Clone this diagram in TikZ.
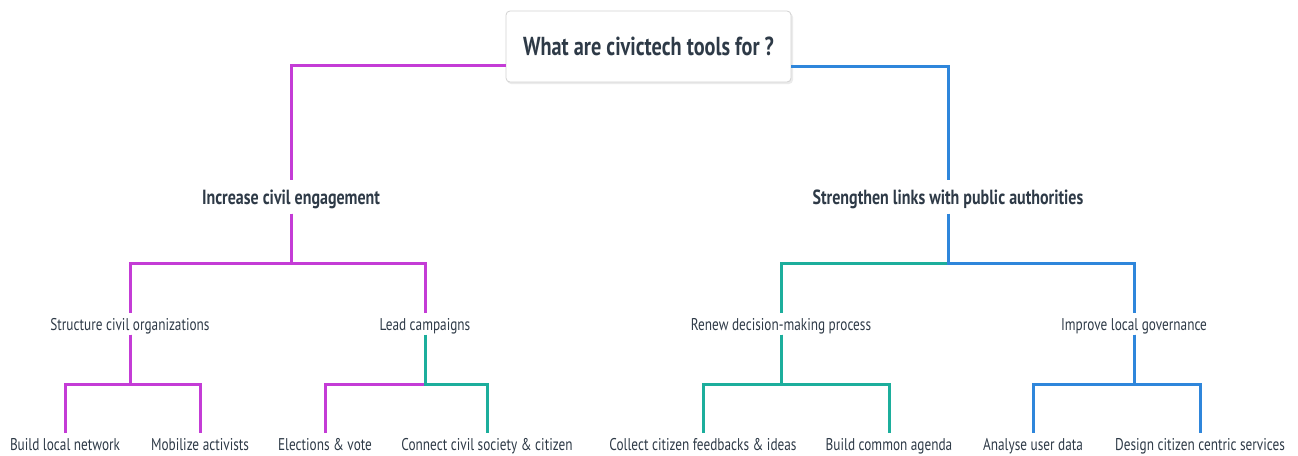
\documentclass[tikz,border=0pt]{standalone}
\usepackage{fontspec}
\setmainfont{PT Sans}[FakeStretch=0.78]
\usetikzlibrary{calc}
\definecolor{mag}{RGB}{196,60,214}
\definecolor{tl}{RGB}{28,174,156}
\definecolor{bl}{RGB}{47,134,219}
\definecolor{txt}{RGB}{46,58,71}
\definecolor{boxline}{RGB}{210,210,210}
\begin{document}
\begin{tikzpicture}[x=1pt,y=-1pt,
  every node/.style={text=txt, inner xsep=0pt},
  rootbox/.style={draw=boxline, line width=0.8pt, fill=white, rounded corners=4pt,
     minimum width=285pt, minimum height=71pt, font=\bfseries\fontsize{26}{29}\selectfont},
  lvltwo/.style={font=\bfseries\fontsize{20.5}{23}\selectfont, text height=14pt, text depth=0pt, inner ysep=9.5pt},
  lvlthree/.style={font=\fontsize{17}{20}\selectfont, text height=12pt, text depth=0pt, inner ysep=4.5pt},
  conn/.style={line width=3pt, line join=miter},
  elbow/.style={to path={-- ++(0,#1) -| (\tikztotarget)}}
]
\useasboundingbox (0,0) rectangle (1298,455);
% root
\fill[black!8, rounded corners=4pt] (507,13) rectangle (793,84);
\node[rootbox] (root) at (648.5,46.5) {What are civictech tools for ?};
% level 2
\node[lvltwo] (inc) at (291,197) {Increase civil engagement};
\node[lvltwo] (str) at (948,197) {Strengthen links with public authorities};
% level 3
\node[lvlthree] (sco) at (130,324) {Structure civil organizations};
\node[lvlthree] (lca) at (425,324) {Lead campaigns};
\node[lvlthree] (rdm) at (781,324) {Renew decision-making process};
\node[lvlthree] (ilg) at (1134,324) {Improve local governance};
% level 4
\node[lvlthree] (bln) at (65,444) {Build local network};
\node[lvlthree] (mac) at (200,444) {Mobilize activists};
\node[lvlthree] (elv) at (325,444) {Elections \& vote};
\node[lvlthree] (ccs) at (487,444) {Connect civil society \& citizen};
\node[lvlthree] (ccf) at (703,444) {Collect citizen feedbacks \& ideas};
\node[lvlthree] (bca) at (889,444) {Build common agenda};
\node[lvlthree] (aud) at (1033,444) {Analyse user data};
\node[lvlthree] (dcs) at (1200,444) {Design citizen centric services};
% connectors
\draw[conn, mag] ([yshift=-18.5pt]root.west) -| (inc.north);
\draw[conn, bl] ([yshift=-19.5pt]root.east) -| (str.north);
\draw[conn, mag] (inc.south) to[elbow=50] (sco.north);
\draw[conn, mag] (inc.south) to[elbow=50] (lca.north);
\draw[conn, mag] (sco.south) to[elbow=49.5] (bln.north);
\draw[conn, mag] (sco.south) to[elbow=49.5] (mac.north);
\draw[conn, mag] ([yshift=-49.5pt]lca.south) -| (elv.north);
\draw[conn, tl] (lca.south) to[elbow=49.5] (ccs.north);
\draw[conn, tl] ([yshift=-50pt]str.south) -| (rdm.north);
\draw[conn, bl] (str.south) to[elbow=50] (ilg.north);
\draw[conn, tl] (rdm.south) to[elbow=49.5] (ccf.north);
\draw[conn, tl] (rdm.south) to[elbow=49.5] (bca.north);
\draw[conn, bl] (ilg.south) to[elbow=49.5] (aud.north);
\draw[conn, bl] (ilg.south) to[elbow=49.5] (dcs.north);
\end{tikzpicture}
\end{document}
